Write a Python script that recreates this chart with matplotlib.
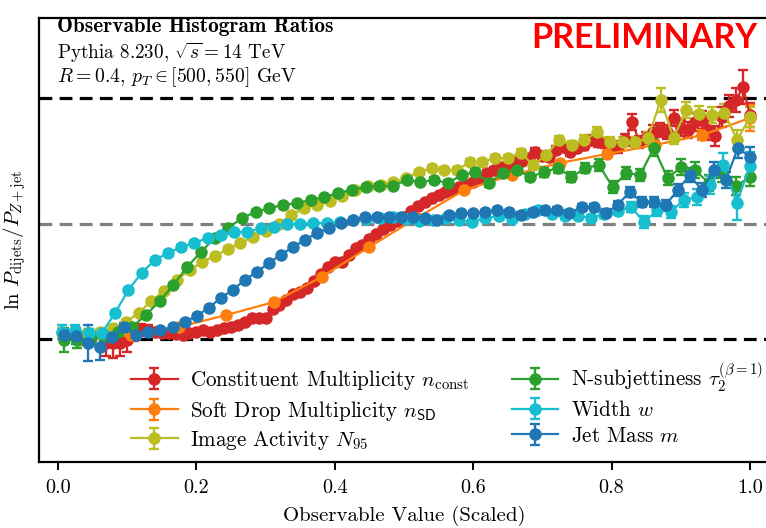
import numpy as np
import matplotlib
matplotlib.use("Agg")
import matplotlib.pyplot as plt

plt.rcParams["font.family"] = "serif"
plt.rcParams["font.serif"] = ["cmr10"]
plt.rcParams["mathtext.fontset"] = "cm"
plt.rcParams["axes.formatter.use_mathtext"] = True

# ---- ratio curves ln(P_dijets / P_Z+jet) versus scaled observable ----
labels = [
    r"Constituent Multiplicity $n_{\rm const}$",
    r"Soft Drop Multiplicity $n_{\mathsf{SD}}$",
    r"Image Activity $N_{95}$",
    r"N-subjettiness $\tau_2^{(\beta=1)}$",
    r"Width $w$",
    r"Jet Mass $m$",
]
colors = ["#d62728", "#ff7f0e", "#bcbd22", "#2ca02c", "#17becf", "#1f77b4"]

nconst_y = [-0.04, -0.04, -0.04, -0.01, 0.06, 0.09, 0.09, 0.07, 0.06, 0.06,
            0.05, 0.04, 0.06, 0.07, 0.09, 0.07, 0.09, 0.11, 0.12, 0.14,
            0.17, 0.21, 0.21, 0.21, 0.30, 0.34, 0.39, 0.45, 0.47, 0.51,
            0.58, 0.65, 0.72, 0.77, 0.77, 0.84, 0.91, 0.94, 1.00, 1.05,
            1.10, 1.14, 1.18, 1.22, 1.28, 1.33, 1.37, 1.41, 1.44, 1.47,
            1.49, 1.52, 1.54, 1.57, 1.61, 1.66, 1.69, 1.72, 1.74, 1.77,
            1.78, 1.81, 1.87, 1.83, 1.82, 1.89, 1.92, 1.87, 1.91, 1.94,
            1.99, 1.97, 1.96, 1.91, 1.92, 1.99, 2.17, 1.97, 2.01, 2.07,
            2.09, 2.07, 2.21, 2.11, 2.09, 2.17, 2.19, 2.09, 2.03, 2.22,
            2.33, 2.39, 2.52, 2.24]
nconst_err = [0.13, 0.15, 0.13, 0.12, 0.08, 0.06, 0.05, 0.04, 0.03, 0.03,
              0.03, 0.03, 0.03, 0.02, 0.02, 0.02, 0.02, 0.02, 0.02, 0.02,
              0.02, 0.02, 0.02, 0.02, 0.02, 0.02, 0.02, 0.02, 0.02, 0.02,
              0.02, 0.02, 0.02, 0.02, 0.02, 0.02, 0.02, 0.02, 0.02, 0.02,
              0.02, 0.02, 0.02, 0.02, 0.02, 0.02, 0.02, 0.02, 0.02, 0.02,
              0.02, 0.02, 0.02, 0.02, 0.02, 0.03, 0.03, 0.03, 0.03, 0.03,
              0.03, 0.03, 0.04, 0.04, 0.04, 0.04, 0.04, 0.04, 0.04, 0.05,
              0.05, 0.05, 0.05, 0.05, 0.06, 0.06, 0.08, 0.06, 0.06, 0.07,
              0.07, 0.07, 0.08, 0.08, 0.08, 0.09, 0.09, 0.10, 0.10, 0.10,
              0.11, 0.12, 0.17, 0.12]

nsd_y = [-0.01, 0.04, 0.12, 0.24, 0.37, 0.62, 0.92, 1.21, 1.49, 1.64,
         1.76, 1.85, 1.94, 2.04, 2.21]
nsd_err = [0.05, 0.03, 0.02, 0.02, 0.02, 0.02, 0.02, 0.02, 0.02, 0.02,
           0.02, 0.03, 0.04, 0.05, 0.13]

n95_y = [0.06, 0.06, 0.06, 0.07, 0.11, 0.17, 0.26, 0.38, 0.48, 0.59,
         0.69, 0.77, 0.83, 0.90, 0.96, 1.02, 1.08, 1.15, 1.24, 1.31,
         1.34, 1.38, 1.43, 1.49, 1.53, 1.54, 1.57, 1.61, 1.67, 1.71,
         1.69, 1.69, 1.77, 1.77, 1.81, 1.81, 1.86, 1.74, 1.84, 1.99,
         1.94, 1.99, 2.07, 1.97, 1.97, 1.97, 2.01, 2.39, 2.01, 2.29,
         2.25, 2.24, 2.26, 1.99, 2.22]
n95_err = [0.05, 0.04, 0.04, 0.03, 0.03, 0.02, 0.02, 0.02, 0.02, 0.02,
           0.02, 0.02, 0.02, 0.02, 0.02, 0.02, 0.02, 0.02, 0.02, 0.02,
           0.02, 0.02, 0.02, 0.02, 0.02, 0.02, 0.02, 0.02, 0.02, 0.03,
           0.03, 0.03, 0.03, 0.03, 0.03, 0.03, 0.04, 0.04, 0.04, 0.04,
           0.04, 0.05, 0.05, 0.05, 0.05, 0.05, 0.06, 0.12, 0.06, 0.08,
           0.08, 0.08, 0.09, 0.10, 0.10]

tau2_y = [-0.01, -0.01, 0.01, 0.03, 0.07, 0.12, 0.24, 0.38, 0.54, 0.72,
          0.87, 1.01, 1.11, 1.21, 1.27, 1.31, 1.34, 1.36, 1.39, 1.42,
          1.46, 1.49, 1.52, 1.53, 1.53, 1.59, 1.57, 1.59, 1.56, 1.64,
          1.67, 1.56, 1.66, 1.69, 1.62, 1.67, 1.71, 1.62, 1.71, 1.74,
          1.52, 1.66, 1.64, 1.91, 1.61, 1.72, 1.69, 1.56, 1.66, 1.53,
          1.62]
tau2_err = [0.12, 0.08, 0.05, 0.04, 0.03, 0.02, 0.02, 0.02, 0.02, 0.02,
            0.02, 0.02, 0.02, 0.02, 0.02, 0.02, 0.02, 0.02, 0.02, 0.02,
            0.02, 0.02, 0.02, 0.02, 0.02, 0.02, 0.02, 0.03, 0.03, 0.03,
            0.03, 0.04, 0.04, 0.04, 0.04, 0.05, 0.05, 0.05, 0.05, 0.06,
            0.06, 0.06, 0.06, 0.08, 0.07, 0.08, 0.08, 0.08, 0.09, 0.09,
            0.09]

width_y = [0.07, 0.09, 0.06, 0.06, 0.26, 0.49, 0.66, 0.79, 0.86, 0.92,
           0.96, 1.01, 1.04, 1.07, 1.07, 1.11, 1.12, 1.15, 1.15, 1.16,
           1.16, 1.17, 1.19, 1.20, 1.21, 1.22, 1.20, 1.18, 1.19, 1.21,
           1.19, 1.17, 1.21, 1.23, 1.20, 1.25, 1.29, 1.25, 1.23, 1.23,
           1.21, 1.25, 1.28, 1.32, 1.17, 1.29, 1.27, 1.39, 1.42, 1.54,
           1.74, 1.36, 1.73]
width_err = [0.07, 0.05, 0.04, 0.03, 0.02, 0.02, 0.02, 0.02, 0.02, 0.02,
             0.02, 0.02, 0.02, 0.02, 0.02, 0.02, 0.02, 0.02, 0.02, 0.02,
             0.02, 0.02, 0.02, 0.02, 0.02, 0.02, 0.02, 0.02, 0.02, 0.02,
             0.03, 0.03, 0.03, 0.03, 0.03, 0.03, 0.03, 0.03, 0.03, 0.03,
             0.03, 0.04, 0.04, 0.05, 0.06, 0.06, 0.06, 0.07, 0.08, 0.09,
             0.12, 0.17, 0.14]

mass_y = [0.04, 0.03, -0.04, -0.08, 0.02, 0.12, 0.04, 0.07, 0.09, 0.12,
          0.17, 0.23, 0.31, 0.41, 0.49, 0.59, 0.67, 0.76, 0.84, 0.92,
          0.99, 1.06, 1.11, 1.16, 1.19, 1.22, 1.22, 1.22, 1.22, 1.22,
          1.21, 1.19, 1.24, 1.26, 1.26, 1.27, 1.29, 1.27, 1.24, 1.27,
          1.29, 1.29, 1.26, 1.32, 1.32, 1.26, 1.34, 1.47, 1.37, 1.37,
          1.34, 1.49, 1.64, 1.49, 1.69, 1.59, 1.91, 1.82]
mass_err = [0.05, 0.08, 0.18, 0.13, 0.06, 0.04, 0.03, 0.03, 0.02, 0.02,
            0.02, 0.02, 0.02, 0.02, 0.02, 0.02, 0.02, 0.02, 0.02, 0.02,
            0.02, 0.02, 0.02, 0.02, 0.02, 0.02, 0.02, 0.02, 0.02, 0.02,
            0.02, 0.02, 0.02, 0.02, 0.02, 0.02, 0.02, 0.02, 0.03, 0.03,
            0.03, 0.03, 0.03, 0.03, 0.03, 0.04, 0.04, 0.05, 0.05, 0.05,
            0.05, 0.06, 0.07, 0.07, 0.08, 0.08, 0.10, 0.10]

# bin centres of each scaled observable
nconst_x = np.linspace(0.070, 1.000, len(nconst_y))
nsd_x = np.linspace(0.037, 1.000, len(nsd_y))
n95_x = np.linspace(0.006, 1.000, len(n95_y))
tau2_x = np.linspace(0.008, 1.000, len(tau2_y))
width_x = np.linspace(0.006, 1.000, len(width_y))
mass_x = np.linspace(0.009, 1.000, len(mass_y))

series = [
    (nconst_x, nconst_y, nconst_err),
    (nsd_x, nsd_y, nsd_err),
    (n95_x, n95_y, n95_err),
    (tau2_x, tau2_y, tau2_err),
    (width_x, width_y, width_err),
    (mass_x, mass_y, mass_err),
]

# reference levels
ref_low, ref_mid, ref_high = 0.0, 1.15, 2.41

W, H = 766, 528
fig = plt.figure(figsize=(W / 100, H / 100), dpi=100)
ax = fig.add_axes([39 / W, (H - 462) / H, 731 / W, 444 / H])

dash = (0, (4.0, 2.3))
ax.axhline(ref_high, color="black", lw=2.3, ls=dash, zorder=1)
ax.axhline(ref_mid, color="#808080", lw=2.3, ls=dash, zorder=1)
ax.axhline(ref_low, color="black", lw=2.3, ls=dash, zorder=1)

for (x, y, e), lab, c in zip(series, labels, colors):
    ax.errorbar(x, y, yerr=e, color=c, marker="o", ms=8, lw=1.6,
                elinewidth=1.7, capsize=3.3, capthick=1.7, label=lab, zorder=3)

ax.set_xlim(-0.0275, 1.029)
ax.set_ylim(-1.23, 3.21)
ax.set_yticks([])
ax.set_xticks([0.0, 0.2, 0.4, 0.6, 0.8, 1.0])
ax.set_xticklabels(["0.0", "0.2", "0.4", "0.6", "0.8", "1.0"])
ax.tick_params(axis="x", direction="out", length=6, width=1.4, labelsize=14.5, pad=6)
for s in ax.spines.values():
    s.set_linewidth(1.6)

ax.set_xlabel("Observable Value (Scaled)", fontsize=15, labelpad=7)
ax.set_ylabel(r"$\ln\,P_{\rm dijets}/P_{Z+{\rm jet}}$", fontsize=15, labelpad=8)

leg = ax.legend(ncol=2, loc="upper left", bbox_to_anchor=(0.10, 0.272),
                frameon=False, fontsize=15.2, handlelength=2.2, columnspacing=2.0,
                labelspacing=0.3, handletextpad=0.6)

fig.text(57 / W, 1 - 27 / H, "Observable Histogram Ratios", family="cmb10",
         fontsize=15.3, va="center", ha="left")
fig.text(57 / W, 1 - 53 / H, r"Pythia 8.230, $\sqrt{s}=14$ TeV",
         fontsize=13.8, va="center", ha="left")
fig.text(57 / W, 1 - 77 / H, r"$R=0.4$, $p_T\in[500,550]$ GeV",
         fontsize=14.2, va="center", ha="left")
fig.text(757 / W, 1 - 38 / H, "PRELIMINARY", family="Lato", fontweight="bold",
         color="red", fontsize=24.5, va="center", ha="right")

fig.savefig("out.png", dpi=100)
